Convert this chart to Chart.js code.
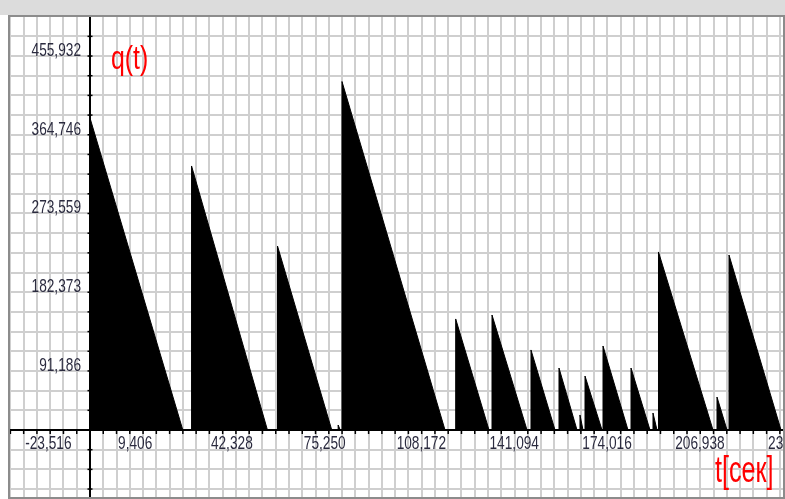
<!DOCTYPE html>
<html>
<head>
<meta charset="utf-8">
<script src="https://cdn.jsdelivr.net/npm/chart.js@4.4.1/dist/chart.umd.min.js"></script>
<style>
html,body{margin:0;padding:0;background:#fff;}
canvas{display:block;}
</style>
</head>
<body>
<canvas id="c" width="785" height="499"></canvas>
<script>
// ---- data (time in seconds, q(t) values) ----
const pulseStart = [0, 36000, 66470, 87970, 89330, 129640, 142510, 156330, 166260, 173700, 175480, 181860, 191790, 199580, 201530, 222270, 226530];
const pulsePeak  = [361400, 305800, 213100, 5800, 403600, 128600, 133200, 92700, 71800, 17400, 62500, 97300, 71800, 19700, 206200, 38200, 202700];
const pulseEnd   = [32900, 62900, 85700, 88700, 125850, 141450, 154920, 164840, 172640, 174770, 181500, 190720, 198520, 201000, 220850, 225820, 244960];

const xTickValues = [-23516, 9406, 42328, 75250, 108172, 141094, 174016, 206938, 239860];
const xTickLabels = ['-23,516', '9,406', '42,328', '75,250', '108,172', '141,094', '174,016', '206,938', '239,860'];
const yTickValues = [91186.4, 182372.8, 273559.2, 364745.6, 455932];
const yTickLabels = ['91,186', '182,373', '273,559', '364,746', '455,932'];

const yTitle = 'q(t)';
const xTitle = 't[сек]';

// view window & grid spacing
const xView = [-28360, 245670];
const yView = [-77600, 478340];
const xGridStep = 32922 / 7;
const yGridStep = 91186.4 / 4;

const points = [];
for (let i = 0; i < pulseStart.length; i++) {
  points.push({x: pulseStart[i], y: 0});
  points.push({x: pulseStart[i], y: pulsePeak[i]});
  points.push({x: pulseEnd[i], y: 0});
}

function gridTicks(scale, step) {
  const t = [];
  const k0 = Math.ceil(scale.min / step), k1 = Math.floor(scale.max / step);
  for (let k = k0; k <= k1; k++) t.push({value: k * step});
  scale.ticks = t;
}

const GRID = '#cfcfcf';

const decor = {
  id: 'decor',
  beforeDraw(chart) {
    const c = chart.ctx;
    c.save();
    c.fillStyle = '#fff';
    c.fillRect(0, 0, chart.width, chart.height);
    c.fillStyle = '#dcdcdc';
    c.fillRect(0, 0, chart.width, 15);
    c.restore();
  },
  afterDatasetsDraw(chart) {
    const c = chart.ctx, xs = chart.scales.x, ys = chart.scales.y, a = chart.chartArea;
    const x0 = xs.getPixelForValue(0), y0 = ys.getPixelForValue(0);
    c.save();
    c.beginPath(); c.rect(a.left, a.top, a.right - a.left, a.bottom - a.top); c.clip();
    // axes
    c.strokeStyle = '#000'; c.lineWidth = 2;
    c.beginPath(); c.moveTo(x0, a.top); c.lineTo(x0, a.bottom); c.stroke();
    c.beginPath(); c.moveTo(a.left, y0); c.lineTo(a.right, y0); c.stroke();
    // tick marks
    c.lineWidth = 1.5;
    xs.ticks.forEach(t => {
      const px = xs.getPixelForValue(t.value);
      c.beginPath(); c.moveTo(px, y0 - 1); c.lineTo(px, y0 + 4); c.stroke();
    });
    ys.ticks.forEach(t => {
      const py = ys.getPixelForValue(t.value);
      c.beginPath(); c.moveTo(x0 - 2.5, py); c.lineTo(x0 + 2.5, py); c.stroke();
    });
    // tick labels
    c.font = '19px "Liberation Sans", Arial, sans-serif';
    c.fillStyle = '#2b2b3f';
    c.textBaseline = 'alphabetic';
    const sx = 0.72;
    xTickValues.forEach((v, i) => {
      const px = xs.getPixelForValue(v);
      c.save(); c.translate(px + 1.5, y0 + 19.5); c.scale(sx, 1);
      c.textAlign = 'left'; c.fillText(xTickLabels[i], 0, 0); c.restore();
    });
    yTickValues.forEach((v, i) => {
      const py = ys.getPixelForValue(v);
      c.save(); c.translate(x0 - 9, py + 19.5); c.scale(sx, 1);
      c.textAlign = 'right'; c.fillText(yTickLabels[i], 0, 0); c.restore();
    });
    // titles
    c.fillStyle = '#ff0000';
    c.textAlign = 'left';
    c.font = '34px "Liberation Sans", Arial, sans-serif';
    c.save(); c.translate(111, 69); c.scale(0.73, 1); c.fillText(yTitle, 0, 0); c.restore();
    c.font = '37px "Liberation Sans", Arial, sans-serif';
    c.save(); c.translate(715, 482); c.scale(0.68, 1); c.fillText(xTitle, 0, 0); c.restore();
    c.restore();
    // frame
    c.save();
    c.strokeStyle = '#8c8c8c'; c.lineWidth = 2;
    c.strokeRect(a.left - 1, a.top - 1, a.right - a.left + 2, a.bottom - a.top + 2);
    c.restore();
  }
};

new Chart(document.getElementById('c'), {
  type: 'scatter',
  data: {
    datasets: [{
      data: points,
      showLine: true,
      fill: 'origin',
      backgroundColor: '#000',
      borderColor: '#000',
      borderWidth: 1,
      pointRadius: 0,
      tension: 0
    }]
  },
  options: {
    responsive: false,
    animation: false,
    devicePixelRatio: 1,
    layout: {padding: {left: 10, top: 17, right: 2, bottom: 2}},
    plugins: {legend: {display: false}, tooltip: {enabled: false}},
    scales: {
      x: {
        type: 'linear', min: xView[0], max: xView[1],
        afterBuildTicks: s => gridTicks(s, xGridStep),
        ticks: {display: false},
        border: {display: false},
        grid: {drawTicks: false, color: GRID, lineWidth: 2}
      },
      y: {
        type: 'linear', min: yView[0], max: yView[1],
        afterBuildTicks: s => gridTicks(s, yGridStep),
        ticks: {display: false},
        border: {display: false},
        grid: {drawTicks: false, color: GRID, lineWidth: 2}
      }
    }
  },
  plugins: [decor]
});
</script>
</body>
</html>
